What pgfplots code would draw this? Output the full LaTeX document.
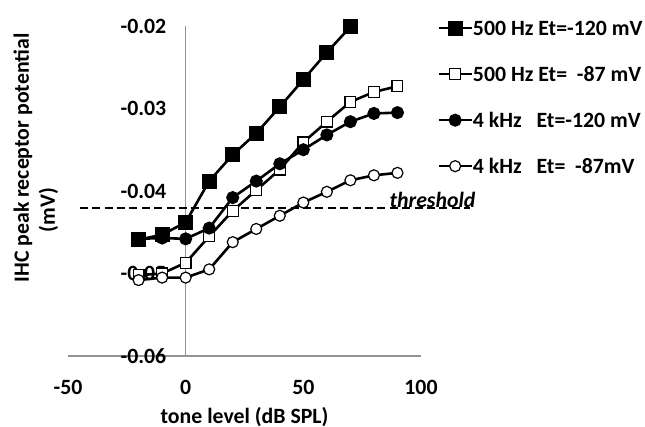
\documentclass[border=0pt]{standalone}
\usepackage{fontspec}
\setmainfont{Carlito}
\usepackage{pgfplots}
\pgfplotsset{compat=1.18}

\newcommand\lbl{\fontsize{10.9pt}{13pt}\selectfont\bfseries}

\begin{document}
\begin{tikzpicture}
\begin{axis}[
    width=176.5pt, height=165pt, scale only axis,
    xmin=-50, xmax=100, ymin=-0.06, ymax=-0.02,
    axis x line*=bottom, axis y line*=center,
    hide obscured x ticks=false, hide obscured y ticks=false,
    x axis line style={-, draw=gray!85, line width=1.3pt},
    y axis line style={-, draw=gray!85, line width=0.8pt},
    scaled y ticks=false, scaled x ticks=false,
    xtick={-50,0,50,100}, xticklabels={-50,0,50,100},
    ytick={-0.06,-0.05,-0.04,-0.03,-0.02},
    yticklabels={-0.06,-0.05,-0.04,-0.03,-0.02},
    major tick length=0pt,
    tick label style={font=\lbl},
    xticklabel style={anchor=center, inner sep=0pt, yshift=-15.5pt},
    yticklabel style={anchor=east, inner sep=0pt, xshift=-9.5pt},
    xlabel={tone level (dB SPL)},
    xlabel style={font=\lbl, at={(axis description cs:0.5,0)}, anchor=center, yshift=-30.5pt},
    clip=false,
    legend image code/.code={\draw[mark repeat=2,mark phase=2,#1] plot coordinates {(0pt,0pt) (8.25pt,0pt) (16.5pt,0pt)};},
    legend style={draw=none, fill=none, font=\lbl, at={(1.0453,1.0158)}, anchor=north west,
        inner sep=0pt, row sep=16pt, nodes={inner sep=0pt, text height=7pt, text depth=0pt}},
    legend cell align=left,
]
\addplot[black, line width=1pt, dash pattern=on 4pt off 2.2pt, forget plot]
    coordinates {(-45,-0.0421) (121,-0.0421)};

\addplot[black, line width=1.3pt, mark=square*, mark size=3.1pt, mark options={solid, fill=black}]
    coordinates {(-20,-0.0459) (-10,-0.0453) (0,-0.0438) (10,-0.0388) (20,-0.0356) (30,-0.0330) (40,-0.0298) (50,-0.0265) (60,-0.0232) (70,-0.0201)};
\addlegendentry{500 Hz Et=-120 mV}

\addplot[black, line width=1.3pt, mark=square*, mark size=2.7pt, mark options={solid, fill=white, draw=black, line width=0.6pt}]
    coordinates {(-20,-0.0502) (-10,-0.0500) (0,-0.0487) (10,-0.0455) (20,-0.0424) (30,-0.0399) (40,-0.0374) (50,-0.0341) (60,-0.0316) (70,-0.0292) (80,-0.0280) (90,-0.0273)};
\addlegendentry{500 Hz Et=~~-87 mV}

\addplot[black, line width=1.3pt, mark=*, mark size=2.6pt, mark options={solid, fill=black}]
    coordinates {(-20,-0.0458) (-10,-0.0457) (0,-0.0458) (10,-0.0445) (20,-0.0408) (30,-0.0388) (40,-0.0367) (50,-0.0350) (60,-0.0332) (70,-0.0316) (80,-0.0306) (90,-0.0305)};
\addlegendentry{4 kHz~~~Et=-120 mV}

\addplot[black, line width=1.3pt, mark=*, mark size=2.75pt, mark options={solid, fill=white, draw=black, line width=0.6pt}]
    coordinates {(-20,-0.0508) (-10,-0.0505) (0,-0.0505) (10,-0.0495) (20,-0.0462) (30,-0.0446) (40,-0.0430) (50,-0.0414) (60,-0.0401) (70,-0.0387) (80,-0.0381) (90,-0.0378)};
\addlegendentry{4 kHz~~~Et=~~-87mV}
\end{axis}

% y label, two lines placed as in the original
\node[rotate=90, font=\lbl] at (-22.5pt,99pt) {IHC peak receptor potential};
\node[rotate=90, font=\lbl] at (-9.75pt,73pt) {(mV)};
\node[font=\lbl\itshape] at (182.25pt,78pt) {threshold};

\pgfresetboundingbox
\path[use as bounding box] (-34pt,-35.5pt) rectangle (288.5pt,178pt);
\end{tikzpicture}
\end{document}
